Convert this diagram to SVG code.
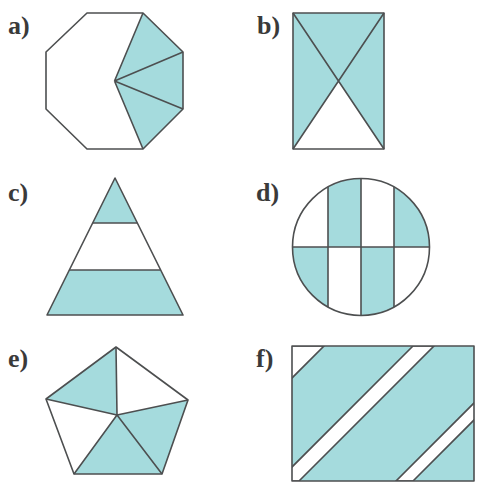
<svg xmlns="http://www.w3.org/2000/svg" width="477" height="485" viewBox="0 0 477 485">
  <style>
    .bg { fill: #ffffff; }
    .sh { fill: #a5dbdd; stroke: none; }
    .wh { fill: #ffffff; stroke: #4d4f50; stroke-width: 1.6; }
    .ln { fill: none; stroke: #4d4f50; stroke-width: 1.6; stroke-linejoin: round; }
    .lbl { font-family: "Liberation Serif", "Times New Roman", serif; font-size: 26px; font-weight: bold; fill: #3a3a3a; }
  </style>
  <defs>
    <clipPath id="circClip"><circle cx="361" cy="247" r="68.5"/></clipPath>
    <clipPath id="rectClip"><rect x="292" y="346" width="182" height="135"/></clipPath>
  </defs>
  <rect class="bg" x="0" y="0" width="477" height="485"/>

  <g id="fig-a">
    <text class="lbl" x="8" y="34">a)</text>
    <polygon class="sh" points="114.5,81 143,13 183,52 183,109 143,149"/>
    <polygon class="ln" points="87,13 143,13 183,52 183,109 143,149 87,149 46,109 46,52"/>
    <path class="ln" d="M114.5,81 L143,13 M114.5,81 L183,52 M114.5,81 L183,109 M114.5,81 L143,149"/>
  </g>

  <g id="fig-b">
    <text class="lbl" x="257" y="34">b)</text>
    <rect class="sh" x="293" y="13" width="91" height="136"/>
    <polygon fill="#ffffff" points="338.5,81 384,149 293,149"/>
    <rect class="ln" x="293" y="13" width="91" height="136"/>
    <path class="ln" d="M293,13 L384,149 M384,13 L293,149"/>
  </g>

  <g id="fig-c">
    <text class="lbl" x="8" y="201">c)</text>
    <polygon class="sh" points="115,178 92.7,223 137.3,223"/>
    <polygon class="sh" points="69.3,270 160.7,270 183,315 47,315"/>
    <polygon class="ln" points="115,178 183,315 47,315"/>
    <path class="ln" d="M92.7,223 L137.3,223 M69.3,270 L160.7,270"/>
  </g>

  <g id="fig-d">
    <text class="lbl" x="256" y="201">d)</text>
    <g clip-path="url(#circClip)">
      <rect class="sh" x="328" y="178" width="33" height="69"/>
      <rect class="sh" x="394" y="178" width="36" height="69"/>
      <rect class="sh" x="292" y="247" width="36" height="69"/>
      <rect class="sh" x="361" y="247" width="33" height="69"/>
      <path class="ln" d="M280,247 L440,247 M328,170 L328,320 M361,170 L361,320 M394,170 L394,320"/>
    </g>
    <circle class="ln" cx="361" cy="247" r="68.5"/>
  </g>

  <g id="fig-e">
    <text class="lbl" x="8" y="367">e)</text>
    <polygon class="sh" points="116,347 46,399 117,415"/>
    <polygon class="sh" points="117,415 74,474 162,474"/>
    <polygon class="sh" points="117,415 188,400 162,474"/>
    <polygon class="ln" points="116,347 188,400 162,474 74,474 46,399"/>
    <path class="ln" d="M117,415 L116,347 M117,415 L188,400 M117,415 L162,474 M117,415 L74,474 M117,415 L46,399"/>
  </g>

  <g id="fig-f">
    <text class="lbl" x="256" y="367">f)</text>
    <rect class="sh" x="292" y="346" width="182" height="135"/>
    <g clip-path="url(#rectClip)">
      <polygon class="wh" points="270,346 324,346 270,400"/>
      <polygon class="wh" points="413,346 434,346 299,481 278,481 270,489 270,489"/>
      <polygon class="wh" points="531,346 548,346 413,481 396,481"/>
    </g>
    <rect class="ln" x="292" y="346" width="182" height="135"/>
  </g>
</svg>
